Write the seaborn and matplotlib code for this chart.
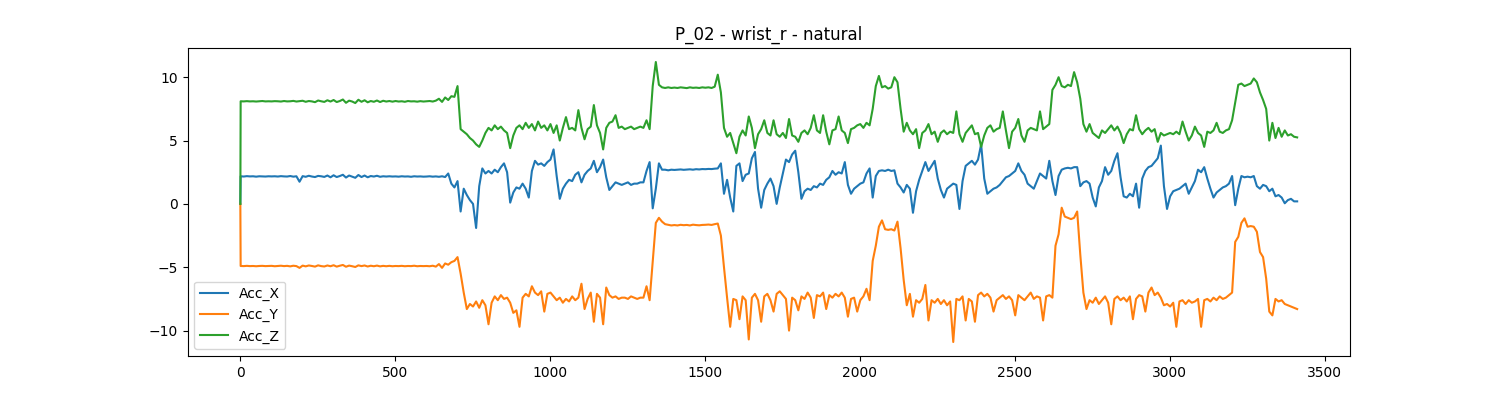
"""Wrist accelerometer trace for one participant."""

import matplotlib
matplotlib.use("Agg")
import matplotlib.pyplot as plt
import numpy as np
import pandas as pd
import seaborn as sns

TITLE = "P_02 - wrist_r - natural"
CHANNELS = ["Acc_X", "Acc_Y", "Acc_Z"]

# sample index: first sample, then every 10th sample
sample_idx = np.r_[0, np.arange(1, 3420, 10)]

acc_x = [
    0.0,
    2.18, 2.16, 2.19, 2.17, 2.18, 2.15, 2.18, 2.17, 2.16, 2.18,
    2.17, 2.18, 2.16, 2.19, 2.17, 2.16, 2.20, 2.15, 2.18, 1.75,
    2.19, 2.14, 2.22, 2.16, 2.12, 2.21, 2.18, 2.13, 2.24, 2.10,
    2.26, 2.12, 2.20, 2.30, 2.08, 2.24, 2.15, 2.06, 2.28, 2.12,
    2.24, 2.10, 2.20, 2.16, 2.22, 2.14, 2.18, 2.16, 2.18, 2.16,
    2.17, 2.15, 2.18, 2.16, 2.17, 2.14, 2.18, 2.16, 2.17, 2.15,
    2.16, 2.18, 2.15, 2.17, 2.14, 2.18, 2.12, 2.40, 1.60, 1.30,
    1.80, -0.60, 1.20, 0.70, 0.30, 0.00, -1.90, 1.40, 2.80, 2.40,
    2.60, 2.40, 2.70, 2.50, 2.90, 3.20, 2.50, 0.10, 0.90, 1.30,
    1.20, 1.60, 1.20, 0.50, 2.60, 3.40, 3.10, 3.20, 3.00, 3.30,
    3.50, 4.30, 2.20, 0.40, 1.20, 1.60, 1.90, 1.80, 2.30, 2.50,
    1.70, 2.30, 2.60, 2.80, 3.40, 2.50, 2.90, 3.50, 2.10, 1.10,
    1.40, 1.70, 1.60, 1.50, 1.60, 1.70, 1.50, 1.60, 1.60, 1.70,
    1.70, 2.60, 3.30, -0.35, 1.20, 3.20, 2.70, 2.70, 2.65, 2.70,
    2.68, 2.70, 2.72, 2.69, 2.71, 2.73, 2.70, 2.74, 2.72, 2.75,
    2.74, 2.76, 2.75, 2.78, 2.80, 3.20, 0.80, 1.90, 0.50, -0.60,
    3.00, 3.20, 1.80, 2.30, 2.40, 3.60, 4.10, 1.20, -0.30, 1.10,
    1.60, 2.00, 1.40, 0.00, 1.30, 2.40, 3.50, 3.30, 3.90, 4.20,
    2.50, 0.40, 1.00, 1.20, 1.10, 1.40, 1.30, 1.60, 1.50, 1.90,
    2.10, 2.60, 2.30, 2.50, 2.40, 3.30, 1.50, 0.80, 1.20, 1.40,
    1.60, 1.70, 2.40, 2.80, 0.50, 2.20, 2.60, 2.65, 2.60, 2.70,
    2.60, 2.65, 1.60, 1.30, 0.90, 1.50, 1.20, -0.70, 1.00, 1.90,
    2.60, 3.30, 2.60, 3.00, 3.40, 2.00, 1.10, 0.50, 1.20, 1.40,
    1.60, 1.50, -0.40, 1.80, 3.00, 3.20, 3.40, 3.10, 3.50, 4.70,
    2.00, 0.80, 1.00, 1.20, 1.30, 1.50, 1.80, 2.10, 2.20, 2.40,
    2.60, 3.20, 2.60, 2.30, 1.60, 1.40, 1.20, 1.80, 2.40, 2.20,
    2.00, 3.40, 1.80, 0.70, 2.20, 2.70, 2.80, 2.85, 2.80, 2.90,
    2.90, 1.40, 1.70, 1.80, 1.60, 0.50, -0.20, 1.30, 1.80, 2.90,
    2.30, 2.60, 3.40, 4.00, 2.10, 0.60, 0.50, 0.80, 0.60, 1.60,
    -0.30, 2.00, 2.60, 2.90, 3.00, 3.30, 3.60, 4.60, 1.40, -0.40,
    0.60, 1.00, 1.10, 1.20, 1.40, 1.60, 0.80, 1.30, 1.80, 2.70,
    2.50, 2.90, 2.00, 1.20, 0.50, 0.90, 1.10, 1.30, 1.40, 1.60,
    2.20, -0.10, 1.20, 2.20, 2.10, 2.15, 2.10, 2.20, 1.40, 1.20,
    1.50, 1.40, 1.00, 1.20, 0.60, 0.70, 0.50, 0.05, 0.30, 0.40,
    0.20, 0.20,
]

acc_y = [
    0.0,
    -4.90, -4.91, -4.89, -4.91, -4.90, -4.92, -4.90, -4.89, -4.91, -4.90,
    -4.89, -4.92, -4.90, -4.88, -4.91, -4.89, -4.93, -4.88, -4.91, -5.05,
    -4.87, -4.93, -4.86, -4.90, -4.95, -4.85, -4.91, -4.94, -4.86, -4.92,
    -4.84, -4.95, -4.88, -4.82, -4.96, -4.87, -4.92, -4.98, -4.85, -4.91,
    -4.86, -4.94, -4.88, -4.92, -4.87, -4.93, -4.89, -4.92, -4.89, -4.92,
    -4.90, -4.91, -4.89, -4.92, -4.90, -4.91, -4.88, -4.92, -4.90, -4.91,
    -4.90, -4.92, -4.88, -4.95, -4.75, -5.05, -4.70, -4.80, -4.60, -4.50,
    -4.20, -5.50, -7.00, -8.30, -7.90, -8.10, -7.70, -8.20, -7.60, -8.00,
    -9.50, -7.80, -7.30, -7.60, -7.20, -7.50, -7.40, -7.80, -8.60, -8.40,
    -9.70, -7.40, -7.10, -7.30, -6.50, -7.00, -7.20, -6.90, -8.50, -7.10,
    -7.00, -7.30, -7.60, -7.40, -7.80, -7.50, -7.70, -7.30, -7.60, -7.40,
    -6.30, -8.30, -7.50, -7.00, -9.30, -7.10, -7.40, -9.50, -6.60, -7.20,
    -7.40, -7.30, -7.50, -7.40, -7.40, -7.50, -7.30, -7.40, -7.50, -7.40,
    -7.40, -6.50, -7.60, -4.50, -1.50, -1.10, -1.40, -1.60, -1.65, -1.70,
    -1.67, -1.70, -1.65, -1.68, -1.66, -1.70, -1.64, -1.67, -1.69, -1.66,
    -1.65, -1.63, -1.66, -1.60, -1.55, -2.50, -5.00, -7.40, -9.70, -7.50,
    -7.60, -9.10, -7.30, -7.60, -10.70, -7.40, -7.10, -7.60, -9.30, -7.30,
    -7.10, -7.60, -8.50, -7.10, -6.90, -7.20, -7.50, -10.00, -7.40, -7.60,
    -8.40, -7.30, -7.50, -7.00, -7.40, -9.00, -7.20, -7.30, -7.00, -8.30,
    -7.20, -7.40, -7.10, -7.30, -7.00, -7.40, -8.90, -7.50, -7.40, -8.50,
    -7.60, -7.30, -6.70, -7.60, -4.50, -3.30, -1.80, -1.30, -2.00, -2.05,
    -2.00, -2.10, -1.40, -3.50, -6.00, -8.00, -7.10, -8.90, -7.60, -7.80,
    -7.50, -6.40, -9.20, -7.60, -7.80, -7.50, -7.90, -7.60, -8.00, -7.70,
    -10.90, -7.50, -7.60, -7.30, -9.20, -7.50, -7.70, -9.30, -7.20, -7.00,
    -7.30, -7.10, -7.40, -8.50, -7.60, -7.40, -7.20, -7.50, -7.30, -7.60,
    -8.80, -7.20, -7.40, -7.60, -7.30, -7.00, -7.50, -7.30, -7.40, -9.20,
    -7.30, -7.20, -7.40, -3.30, -2.40, -0.30, -1.00, -1.10, -1.20, -1.10,
    -0.60, -4.00, -7.00, -8.30, -7.60, -7.80, -7.40, -7.90, -7.60, -7.30,
    -7.80, -9.50, -7.50, -7.30, -7.60, -7.40, -7.70, -7.30, -9.10, -7.50,
    -7.20, -7.30, -8.50, -7.00, -6.60, -7.20, -7.00, -7.40, -8.00, -7.90,
    -8.10, -7.80, -9.70, -7.70, -7.60, -7.90, -7.60, -7.80, -7.70, -7.50,
    -9.70, -7.60, -7.50, -7.70, -7.40, -7.60, -7.30, -7.50, -7.40, -7.20,
    -7.00, -3.00, -2.60, -1.50, -1.14, -1.80, -1.75, -1.80, -2.20, -3.80,
    -4.20, -5.90, -8.50, -8.80, -7.50, -7.70, -7.60, -7.90, -8.00, -8.10,
    -8.20, -8.30,
]

acc_z = [
    0.0,
    8.10, 8.09, 8.11, 8.09, 8.10, 8.08, 8.10, 8.12, 8.09, 8.10,
    8.09, 8.11, 8.10, 8.08, 8.12, 8.09, 8.10, 8.13, 8.08, 8.11,
    8.14, 8.06, 8.12, 8.09, 8.03, 8.16, 8.10, 8.05, 8.18, 8.08,
    8.20, 8.04, 8.12, 8.24, 7.98, 8.15, 8.08, 7.96, 8.22, 8.06,
    8.18, 8.02, 8.12, 8.06, 8.16, 8.04, 8.14, 8.08, 8.12, 8.07,
    8.12, 8.08, 8.10, 8.06, 8.12, 8.09, 8.10, 8.07, 8.11, 8.08,
    8.10, 8.12, 8.08, 8.15, 8.30, 8.05, 8.40, 8.20, 8.50, 8.45,
    9.30, 5.90, 5.70, 5.50, 5.20, 5.00, 4.70, 4.50, 5.00, 5.60,
    6.00, 5.80, 6.20, 5.90, 6.10, 5.80, 5.60, 4.40, 5.40, 6.00,
    6.20, 5.90, 6.40, 6.00, 6.30, 5.80, 6.50, 6.00, 6.20, 5.80,
    6.30, 5.60, 6.20, 5.00, 6.00, 6.85, 5.90, 6.00, 5.80, 7.40,
    6.00, 5.10, 5.90, 6.10, 7.80, 6.20, 5.60, 4.30, 6.00, 6.40,
    6.50, 7.00, 6.00, 6.10, 5.90, 6.00, 6.10, 5.90, 6.00, 6.10,
    6.00, 6.60, 5.90, 9.30, 11.20, 9.40, 9.20, 9.15, 9.20, 9.15,
    9.18, 9.15, 9.20, 9.17, 9.14, 9.20, 9.16, 9.18, 9.15, 9.20,
    9.17, 9.20, 9.15, 9.25, 10.20, 8.80, 6.00, 5.30, 5.60, 4.80,
    4.00, 5.30, 5.80, 5.40, 6.90, 6.00, 4.40, 5.50, 5.90, 6.60,
    5.60, 5.40, 6.60, 5.50, 5.30, 5.60, 5.20, 6.70, 5.40, 5.30,
    4.90, 5.60, 5.80, 5.50, 6.00, 7.00, 5.80, 5.60, 7.00, 5.70,
    4.70, 5.80, 5.90, 6.90, 5.80, 5.60, 4.80, 5.90, 6.00, 6.20,
    6.30, 6.00, 6.40, 6.20, 7.50, 9.30, 10.10, 9.20, 9.30, 9.10,
    9.20, 10.00, 9.60, 7.50, 5.70, 6.40, 5.80, 5.50, 5.90, 4.40,
    5.60, 5.80, 6.30, 5.50, 5.70, 4.90, 5.60, 5.80, 5.50, 5.70,
    5.60, 7.30, 5.50, 4.90, 5.60, 5.90, 6.20, 5.50, 5.60, 4.50,
    5.40, 6.00, 6.20, 5.70, 5.90, 6.00, 7.30, 5.80, 4.40, 5.70,
    6.00, 6.70, 5.40, 4.90, 5.80, 6.00, 5.90, 5.80, 7.30, 5.90,
    6.10, 6.30, 9.00, 9.40, 10.00, 9.30, 9.20, 9.40, 9.30, 10.40,
    9.60, 8.30, 6.30, 5.70, 6.30, 5.60, 5.40, 5.20, 5.80, 5.60,
    5.90, 6.20, 5.80, 6.10, 5.60, 4.80, 5.50, 5.90, 5.80, 7.00,
    5.90, 5.50, 5.80, 6.00, 5.70, 5.90, 4.90, 5.60, 5.40, 5.50,
    5.60, 5.50, 5.70, 5.50, 6.50, 5.70, 5.00, 5.40, 6.10, 5.60,
    5.40, 4.50, 5.70, 5.60, 5.80, 6.40, 5.70, 5.60, 5.80, 5.90,
    6.60, 8.00, 9.40, 9.50, 9.30, 9.40, 9.50, 9.90, 9.60, 8.80,
    8.20, 7.50, 5.00, 6.40, 5.20, 6.00, 5.30, 5.80, 5.40, 5.50,
    5.30, 5.25,
]

df = pd.DataFrame({"sample": sample_idx, "Acc_X": acc_x, "Acc_Y": acc_y, "Acc_Z": acc_z})
long_df = df.melt(id_vars="sample", value_vars=CHANNELS, var_name="channel", value_name="acc")

fig, ax = plt.subplots(figsize=(15, 4), dpi=100)
sns.lineplot(
    data=long_df,
    x="sample",
    y="acc",
    hue="channel",
    hue_order=CHANNELS,
    palette=sns.color_palette("tab10", 3),
    estimator=None,
    sort=False,
    linewidth=1.5,
    ax=ax,
)
ax.set_title(TITLE)
ax.set_xlabel("")
ax.set_ylabel("")
ax.legend(loc="lower left")

plt.savefig("out.png", dpi=100)
plt.close()
